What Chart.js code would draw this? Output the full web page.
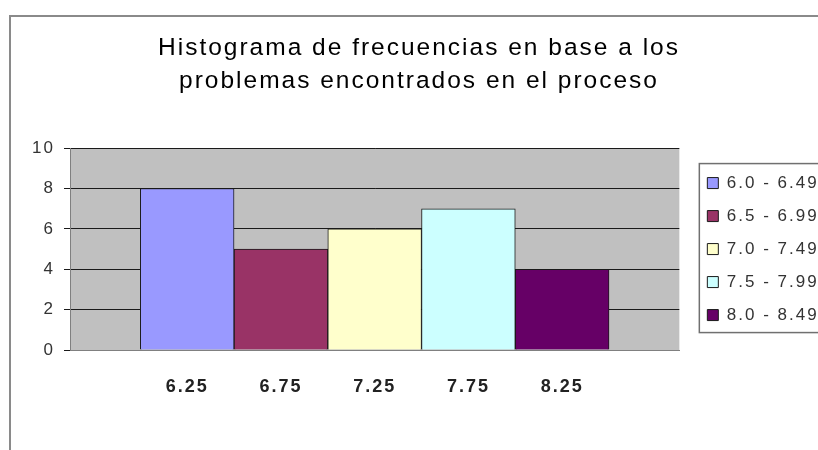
<!DOCTYPE html>
<html>
<head>
<meta charset="utf-8">
<title>Histograma de frecuencias</title>
<script src="https://cdn.jsdelivr.net/npm/chart.js@4.4.1/dist/chart.umd.min.js"></script>
<style>
  html, body { margin: 0; padding: 0; background: #fff; overflow: hidden; }
  #frame { position: absolute; left: 9px; top: 15px; width: 1000px; height: 600px;
           border-left: 2px solid #8a8a8a; border-top: 2px solid #8a8a8a; }
  #chart { position: absolute; left: 0; top: 0; }
</style>
</head>
<body>
<div id="frame"></div>
<canvas id="chart" width="860" height="450"></canvas>
<script>
// bins of the histogram, their class marks and counts
const binLabels = ['6.0 - 6.49', '6.5 - 6.99', '7.0 - 7.49', '7.5 - 7.99', '8.0 - 8.49'];
const midpoints = [6.25, 6.75, 7.25, 7.75, 8.25];
const tickLabels = ['6.25', '6.75', '7.25', '7.75', '8.25'];
const frequencies = [8, 5, 6, 7, 4];
const barColors = ['#9999ff', '#993366', '#ffffcc', '#ccffff', '#660066'];

// axis range: half the excel gap (0.75 bar) on each side of 6.0 .. 8.5
const xMin = 5.625;
const xMax = 8.875;

Chart.defaults.font.family = '"Liberation Sans", Arial, sans-serif';
Chart.defaults.color = '#222';

const spacing = '2px';

const chartLook = {
  id: 'chartLook',
  beforeUpdate(chart) {
    chart.ctx.letterSpacing = spacing;
  },
  beforeDraw(chart) {
    const {ctx, chartArea: a} = chart;
    ctx.letterSpacing = spacing;
    ctx.save();
    ctx.fillStyle = '#c0c0c0';
    ctx.fillRect(a.left, a.top, a.right - a.left, a.bottom - a.top);
    ctx.restore();
  },
  afterDraw(chart) {
    // frame round the legend, like the excel one
    const legend = chart.legend;
    const boxes = legend.legendHitBoxes;
    const first = boxes[0];
    const last = boxes[boxes.length - 1];
    const top = first.top - 11;
    const bottom = last.top + last.height + 9;
    const ctx = chart.ctx;
    ctx.save();
    ctx.strokeStyle = '#707070';
    ctx.lineWidth = 1.5;
    ctx.strokeRect(legend.left + 8, top, 200, bottom - top);
    ctx.restore();
  }
};

const datasets = binLabels.map((label, i) => ({
  label: label,
  data: [{x: midpoints[i], y: frequencies[i]}],
  backgroundColor: barColors[i],
  borderColor: '#1a1a1a',
  borderWidth: 1,
  grouped: false,
  barPercentage: 1,
  categoryPercentage: 1
}));

new Chart(document.getElementById('chart'), {
  type: 'bar',
  data: {datasets: datasets},
  plugins: [chartLook],
  options: {
    responsive: false,
    animation: false,
    layout: {padding: {left: 10.5, right: 32.5, top: 0, bottom: 0}},
    plugins: {
      title: {
        display: true,
        text: ['Histograma de frecuencias en base a los', 'problemas encontrados en el proceso'],
        color: '#000',
        font: {size: 24.5, weight: 'normal', lineHeight: 1.35},
        padding: {top: 32, bottom: 50}
      },
      legend: {
        position: 'right',
        fullSize: false,
        labels: {
          boxWidth: 11,
          boxHeight: 11,
          padding: 16,
          color: '#333',
          font: {size: 17}
        }
      },
      tooltip: {enabled: false}
    },
    scales: {
      x: {
        type: 'linear',
        offset: false,
        min: xMin,
        max: xMax,
        afterBuildTicks: s => { s.ticks = midpoints.map(v => ({value: v})); },
        afterFit: s => { s.height = 100; },
        grid: {display: false, drawTicks: false},
        border: {color: '#808080', width: 1},
        ticks: {
          padding: 26,
          maxRotation: 0,
          color: '#222',
          font: {size: 18, weight: 'bold'},
          callback: (v, i) => tickLabels[i]
        }
      },
      y: {
        min: 0,
        max: 10,
        afterFit: s => { s.width = 59.5; },
        grid: {color: '#1a1a1a', tickLength: 6},
        border: {color: '#808080'},
        ticks: {stepSize: 2, padding: 9, color: '#333', font: {size: 17}}
      },
      gap: {
        type: 'linear',
        axis: 'y',
        position: 'right',
        grid: {display: false},
        ticks: {display: false},
        border: {display: false},
        afterFit: s => { s.width = 12; }
      }
    }
  }
});
</script>
</body>
</html>
